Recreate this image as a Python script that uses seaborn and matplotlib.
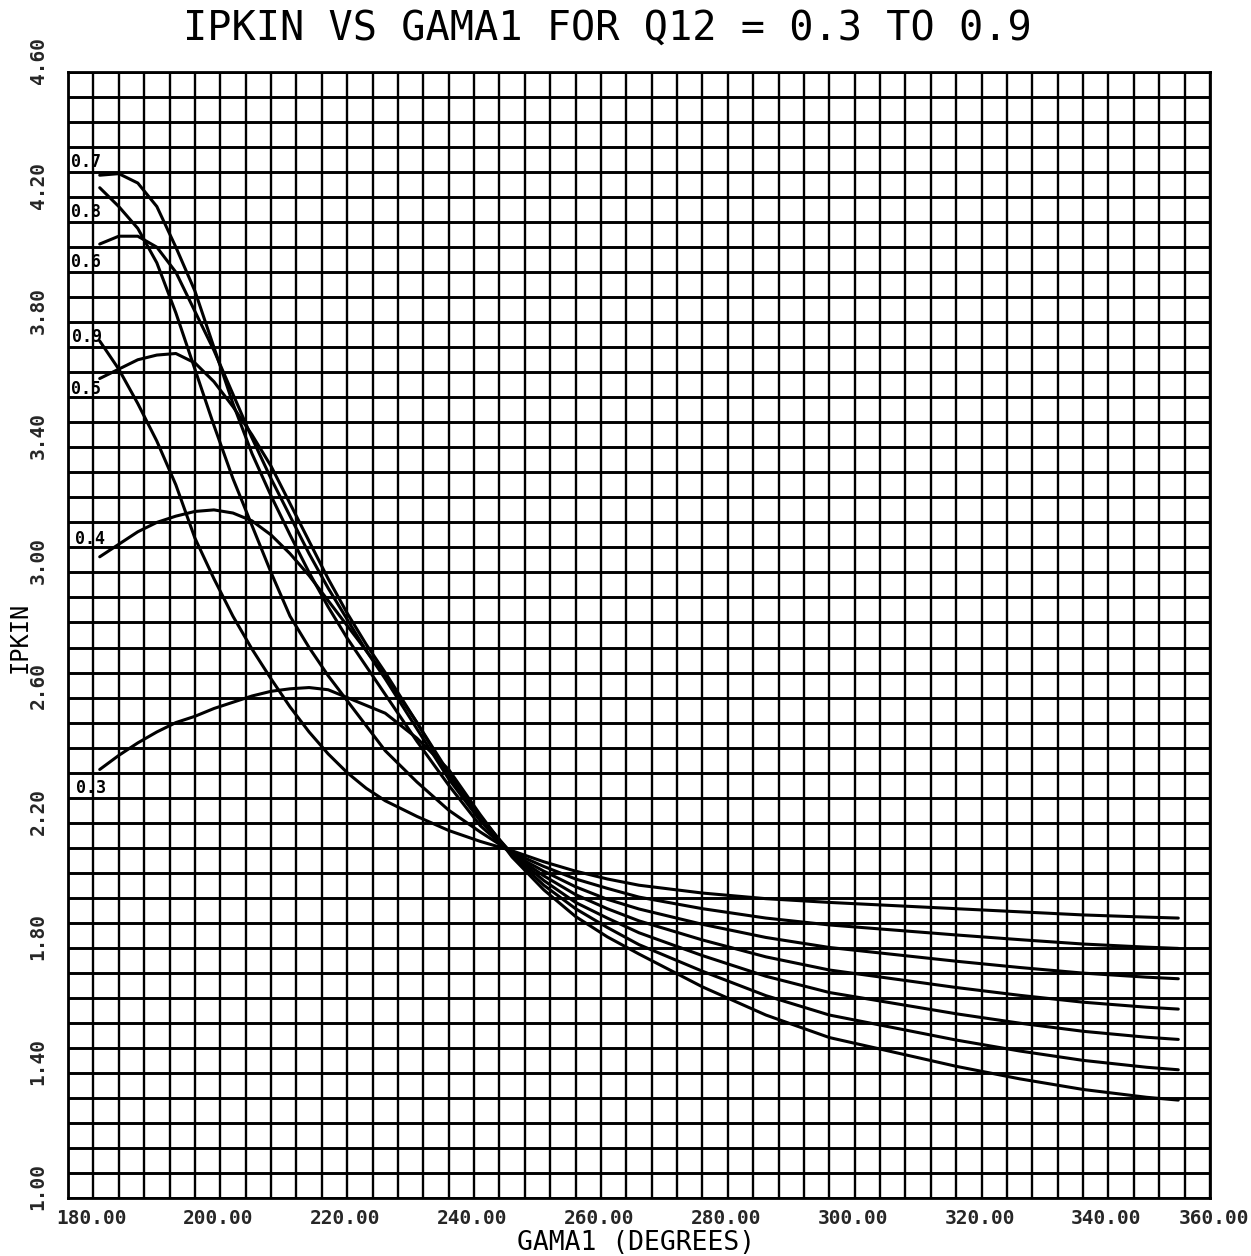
import numpy as np
import pandas as pd
import matplotlib
matplotlib.use("Agg")
import matplotlib.pyplot as plt
from matplotlib.ticker import FixedLocator
import seaborn as sns

# ---- data -------------------------------------------------------------
gama1 = [185, 188, 191, 194, 197, 200, 203, 206, 209, 212, 215, 218, 221,
         224, 227, 230, 235, 240, 245, 250, 255, 260, 265, 270, 280, 290,
         300, 310, 320, 330, 340, 350, 355]

ipkin_q03 = [2.37, 2.415, 2.455, 2.49, 2.52, 2.54, 2.565, 2.585, 2.605, 2.62,
             2.628, 2.632, 2.625, 2.60, 2.575, 2.55, 2.47, 2.37, 2.225, 2.09,
             1.985, 1.90, 1.835, 1.78, 1.675, 1.585, 1.513, 1.467, 1.421,
             1.381, 1.347, 1.322, 1.313]
ipkin_q04 = [3.05, 3.09, 3.13, 3.16, 3.18, 3.195, 3.20, 3.19, 3.165, 3.12,
             3.06, 2.99, 2.91, 2.83, 2.75, 2.67, 2.52, 2.36, 2.22, 2.095,
             2.0, 1.925, 1.865, 1.81, 1.725, 1.647, 1.585, 1.545, 1.505,
             1.47, 1.44, 1.418, 1.41]
ipkin_q05 = [3.62, 3.65, 3.68, 3.695, 3.70, 3.67, 3.61, 3.53, 3.44, 3.34,
             3.22, 3.10, 2.98, 2.87, 2.77, 2.68, 2.52, 2.35, 2.215, 2.10,
             2.015, 1.945, 1.895, 1.848, 1.775, 1.709, 1.657, 1.623, 1.589,
             1.559, 1.533, 1.514, 1.507]
ipkin_q06 = [4.05, 4.075, 4.075, 4.04, 3.96, 3.835, 3.71, 3.57, 3.43, 3.30,
             3.18, 3.06, 2.95, 2.85, 2.75, 2.66, 2.50, 2.34, 2.205, 2.10,
             2.03, 1.97, 1.925, 1.886, 1.825, 1.771, 1.729, 1.701, 1.673,
             1.648, 1.626, 1.61, 1.604]
ipkin_q07 = [4.27, 4.275, 4.245, 4.17, 4.04, 3.90, 3.72, 3.54, 3.38, 3.245,
             3.12, 3.00, 2.89, 2.79, 2.70, 2.61, 2.46, 2.32, 2.19, 2.10,
             2.045, 1.995, 1.955, 1.924, 1.875, 1.833, 1.801, 1.779, 1.757,
             1.737, 1.719, 1.706, 1.701]
ipkin_q08 = [4.23, 4.17, 4.10, 3.99, 3.83, 3.65, 3.47, 3.30, 3.15, 3.00,
             2.86, 2.76, 2.67, 2.59, 2.51, 2.43, 2.33, 2.24, 2.17, 2.105,
             2.06, 2.02, 1.99, 1.962, 1.925, 1.895, 1.873, 1.857, 1.841,
             1.826, 1.812, 1.802, 1.798]
ipkin_q09 = [3.74, 3.65, 3.54, 3.42, 3.28, 3.11, 2.98, 2.86, 2.755, 2.66,
             2.57, 2.49, 2.42, 2.36, 2.31, 2.27, 2.22, 2.175, 2.14, 2.11,
             2.075, 2.045, 2.02, 2.00, 1.975, 1.957, 1.945, 1.935, 1.925,
             1.915, 1.905, 1.898, 1.895]

q12_levels = ["0.3", "0.4", "0.5", "0.6", "0.7", "0.8", "0.9"]
ipkin_series = [ipkin_q03, ipkin_q04, ipkin_q05, ipkin_q06,
                ipkin_q07, ipkin_q08, ipkin_q09]

x_ticks = [180, 200, 220, 240, 260, 280, 300, 320, 340, 360]
x_tick_labels = ["180.00", "200.00", "220.00", "240.00", "260.00",
                 "280.00", "300.00", "320.00", "340.00", "360.00"]
y_ticks = [1.00, 1.40, 1.80, 2.20, 2.60, 3.00, 3.40, 3.80, 4.20, 4.60]
y_tick_labels = ["1.00", "1.40", "1.80", "2.20", "2.60",
                 "3.00", "3.40", "3.80", "4.20", "4.60"]

title_text = "IPKIN VS GAMA1 FOR Q12 = 0.3 TO 0.9"
x_title = "GAMA1 (DEGREES)"
y_title = "IPKIN"

# ---- long-form table for seaborn -------------------------------------
df = pd.concat(
    [pd.DataFrame({"GAMA1": gama1, "IPKIN": vals, "Q12": q})
     for q, vals in zip(q12_levels, ipkin_series)],
    ignore_index=True,
)

# ---- figure ------------------------------------------------------------
sns.set_style("white")
plt.rcParams["font.family"] = ["DejaVu Sans Mono", "DejaVu Sans"]

W, H = 1251, 1256
fig = plt.figure(figsize=(W / 100, H / 100), dpi=100)
L, R, T, B = 68, 1210, 72, 1198
ax = fig.add_axes([L / W, (H - B) / H, (R - L) / W, (B - T) / H])

ax.set_xlim(180, 360)
ax.set_ylim(1.0, 4.6)

# plotter-style grid: every 4 degrees and every 0.08 units
ax.set_xticks(x_ticks)
ax.set_yticks(y_ticks)
ax.xaxis.set_minor_locator(FixedLocator(np.arange(180, 361, 4)))
ax.yaxis.set_minor_locator(FixedLocator(np.linspace(1.0, 4.6, 46)))
ax.grid(which="both", axis="y", color="black", linewidth=2.1)
ax.grid(which="both", axis="x", color="black", linewidth=1.7)
ax.set_axisbelow(True)

for sp in ax.spines.values():
    sp.set_color("black")
    sp.set_linewidth(2.0)

ax.tick_params(axis="y", which="major", direction="out", length=6.5,
               width=2.0, color="black", labelleft=False)
ax.tick_params(axis="x", which="major", direction="out", length=3.6,
               width=1.6, color="black", labelbottom=False)
ax.tick_params(which="minor", length=0)

# curves
sns.lineplot(data=df, x="GAMA1", y="IPKIN", hue="Q12",
             palette={q: "black" for q in q12_levels},
             linewidth=2.2, legend=False, estimator=None, sort=False, ax=ax)
ax.set_xlabel("")
ax.set_ylabel("")

# tick labels, plotter style: text starts just before each tick
for i, (v, lab) in enumerate(zip(x_ticks, x_tick_labels)):
    dx = -8.6 if i < len(x_ticks) - 1 else -22.3   # keep last one on the sheet
    ax.annotate(lab, xy=(v, 0), xycoords=("data", "axes fraction"),
                xytext=(dx, -14.4), textcoords="offset points",
                ha="left", va="center", fontsize=14, fontweight="bold",
                annotation_clip=False)
for v, lab in zip(y_ticks, y_tick_labels):
    ax.annotate(lab, xy=(0, v), xycoords=("axes fraction", "data"),
                xytext=(-21.5, -8.6), textcoords="offset points",
                ha="center", va="bottom", rotation=90, fontsize=14,
                fontweight="bold", annotation_clip=False)

# curve labels near the start of each curve
label_anchor = {
    "0.3": (181.3, 2.311), "0.4": (181.1, 3.107), "0.5": (180.5, 3.587),
    "0.6": (180.4, 3.993), "0.7": (180.4, 4.312), "0.8": (180.4, 4.152),
    "0.9": (180.6, 3.753),
}
for q in q12_levels:
    gx, gy = label_anchor[q]
    ax.text(gx, gy, q, ha="left", va="center", fontsize=12,
            fontweight="bold", color="black")

# titles
fig.text(607 / W, 1 - 29 / H, title_text, ha="center", va="center",
         fontsize=29, color="black")
fig.text(636 / W, 1 - 1243 / H, x_title, ha="center", va="center",
         fontsize=19, color="black")
fig.text(20 / W, 1 - 637 / H, y_title, ha="center", va="center",
         rotation=90, fontsize=17, color="black")

fig.savefig("out.png", dpi=100, facecolor="white")
